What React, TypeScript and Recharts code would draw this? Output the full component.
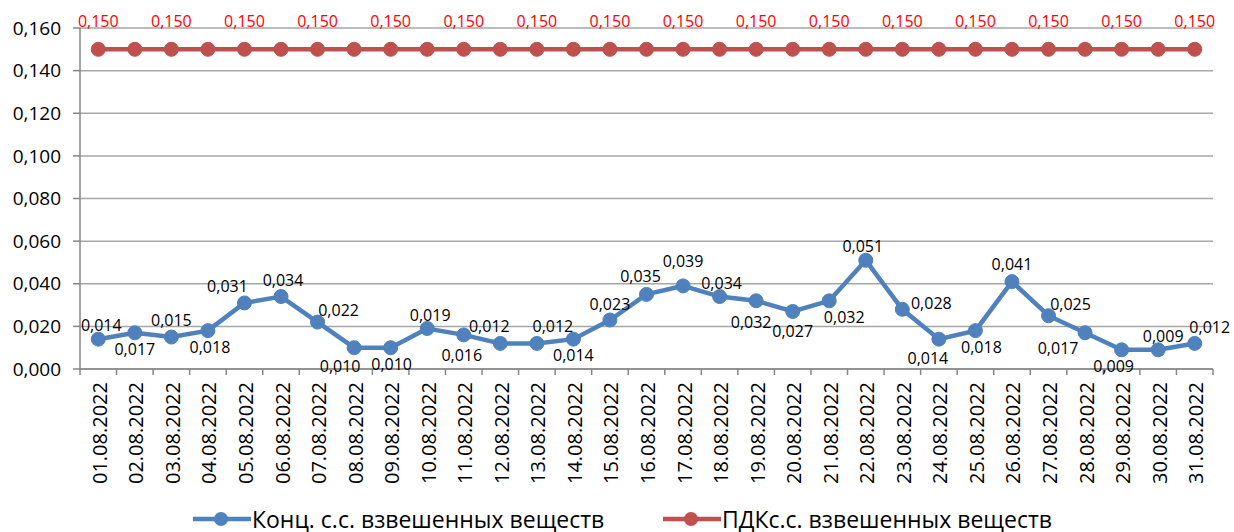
import { LineChart, Line, XAxis, YAxis, CartesianGrid, Legend, LabelList } from 'recharts'

const DATES = [
  '01.08.2022', '02.08.2022', '03.08.2022', '04.08.2022', '05.08.2022', '06.08.2022',
  '07.08.2022', '08.08.2022', '09.08.2022', '10.08.2022', '11.08.2022', '12.08.2022',
  '13.08.2022', '14.08.2022', '15.08.2022', '16.08.2022', '17.08.2022', '18.08.2022',
  '19.08.2022', '20.08.2022', '21.08.2022', '22.08.2022', '23.08.2022', '24.08.2022',
  '25.08.2022', '26.08.2022', '27.08.2022', '28.08.2022', '29.08.2022', '30.08.2022',
  '31.08.2022',
]

const CONC = [
  0.014, 0.017, 0.015, 0.018, 0.031, 0.034, 0.022, 0.010, 0.010, 0.019, 0.016, 0.012,
  0.012, 0.014, 0.023, 0.035, 0.039, 0.034, 0.032, 0.027, 0.032, 0.051, 0.028, 0.014,
  0.018, 0.041, 0.025, 0.017, 0.009, 0.009, 0.012,
]

const PDK = [
  0.15, 0.15, 0.15, 0.15, 0.15, 0.15, 0.15, 0.15, 0.15, 0.15, 0.15, 0.15,
  0.15, 0.15, 0.15, 0.15, 0.15, 0.15, 0.15, 0.15, 0.15, 0.15, 0.15, 0.15,
  0.15, 0.15, 0.15, 0.15, 0.15, 0.15, 0.15,
]

const Y_TICKS = [0, 0.02, 0.04, 0.06, 0.08, 0.1, 0.12, 0.14, 0.16]

const SERIES_CONC = 'Конц. с.с. взвешенных веществ'
const SERIES_PDK = 'ПДКс.с. взвешенных веществ'

const data = DATES.map((d, i) => ({ date: d, conc: CONC[i], pdk: PDK[i] }))

// label placement, text centre relative to the point
const CONC_DX = [3, 0, 0, 2, -17, 2, 21, -14, 1, 3, -2, -11, 16, 0, 0, -6, 0, 2, -5, 0, 15, -3, 29, -11, 6, 0, 22, -27, -8, 5, 15]
const CONC_DY = [-14, 16, -17, 16, -17, -17, -12, 18, 16, -14, 20, -17, -17, 16, -16, -18, -25, -14, 21, 20, 16, -14, -6, 19, 16, -18, -12, 15, 16, -14, -16]

const W = 1234
const H = 532
const MARGIN = { top: 28, right: 21, bottom: 0, left: 0 }
const Y_AXIS_W = 80
const BAND = (W - MARGIN.right - Y_AXIS_W) / DATES.length

const BLUE = '#4f81bd'
const RED = '#c0504d'
const AXIS = '#868686'
const GRID = '#a6a6a6'
const FONT = '"Open Sans", sans-serif'

const fmt = (v: number) => v.toFixed(3).replace('.', ',')

function DateTick(props: any) {
  const { x, y, payload, index } = props
  return (
    <g>
      <line x1={x - BAND / 2} y1={y} x2={x - BAND / 2} y2={y + 6} stroke={AXIS} strokeWidth={1.5} />
      {index === DATES.length - 1 && (
        <line x1={x + BAND / 2} y1={y} x2={x + BAND / 2} y2={y + 6} stroke={AXIS} strokeWidth={1.5} />
      )}
      <text
        transform={`translate(${x + 1},${y + 13}) rotate(-90)`}
        textAnchor="end"
        dominantBaseline="central"
        fontSize={20}
        fontFamily={FONT}
        fill="#000"
      >
        {payload.value}
      </text>
    </g>
  )
}

function concLabel(props: any) {
  const { x, y, value, index } = props
  return (
    <text
      x={x + CONC_DX[index]}
      y={y + CONC_DY[index]}
      textAnchor="middle"
      dominantBaseline="central"
      fontSize={16}
      fontFamily={FONT}
      fill="#000"
    >
      {fmt(value)}
    </text>
  )
}

function pdkLabel(props: any) {
  const { x, y, value, index } = props
  if (index % 2 !== 0) return null
  return (
    <text
      x={x}
      y={y - 28.5}
      textAnchor="middle"
      dominantBaseline="central"
      fontSize={16}
      fontFamily={FONT}
      fill="#ff0000"
    >
      {fmt(value)}
    </text>
  )
}

const LEGEND_LEFT = [193, 663]

function renderLegend(props: any) {
  const { payload } = props
  return (
    <div style={{ position: 'relative', height: 32, width: W }}>
      {(payload || []).map((p: any, i: number) => (
        <div
          key={p.value}
          style={{
            position: 'absolute',
            left: LEGEND_LEFT[i],
            top: 7,
            display: 'flex',
            alignItems: 'center',
            whiteSpace: 'nowrap',
          }}
        >
          <svg width={58} height={18}>
            <line x1={0} y1={9} x2={58} y2={9} stroke={p.color} strokeWidth={4.5} />
            <circle cx={28} cy={9} r={7} fill={p.color} />
          </svg>
          <span style={{ fontFamily: FONT, fontSize: 23, color: '#000', marginLeft: 1, lineHeight: '24px' }}>
            {p.value}
          </span>
        </div>
      ))}
    </div>
  )
}

export default function App() {
  return (
    <div style={{ position: 'absolute', left: 0, top: 0, width: W, height: H, background: '#fff' }}>
      <LineChart width={W} height={H} data={data} margin={MARGIN}>
        <CartesianGrid vertical={false} stroke={GRID} strokeWidth={1.5} />
        <XAxis
          dataKey="date"
          interval={0}
          height={131}
          padding={{ left: BAND / 2, right: BAND / 2 }}
          tickSize={0}
          tickMargin={0}
          tickLine={false}
          axisLine={{ stroke: AXIS, strokeWidth: 1.5 }}
          tick={<DateTick />}
        />
        <YAxis
          width={Y_AXIS_W}
          domain={[0, 0.16]}
          ticks={Y_TICKS}
          tickFormatter={fmt}
          tickSize={7}
          tickMargin={12}
          axisLine={{ stroke: AXIS, strokeWidth: 1.5 }}
          tickLine={{ stroke: AXIS, strokeWidth: 1.5 }}
          tick={{ fontSize: 19, fontFamily: FONT, fill: '#000' }}
        />
        <Legend verticalAlign="bottom" height={32} content={renderLegend} />
        <Line
          name={SERIES_CONC}
          dataKey="conc"
          stroke={BLUE}
          strokeWidth={4.5}
          dot={{ r: 7, fill: BLUE, stroke: BLUE, strokeWidth: 1 }}
          activeDot={false}
          isAnimationActive={false}
        >
          <LabelList dataKey="conc" content={concLabel} />
        </Line>
        <Line
          name={SERIES_PDK}
          dataKey="pdk"
          stroke={RED}
          strokeWidth={4.5}
          dot={{ r: 7, fill: RED, stroke: RED, strokeWidth: 1 }}
          activeDot={false}
          isAnimationActive={false}
        >
          <LabelList dataKey="pdk" content={pdkLabel} />
        </Line>
      </LineChart>
    </div>
  )
}
